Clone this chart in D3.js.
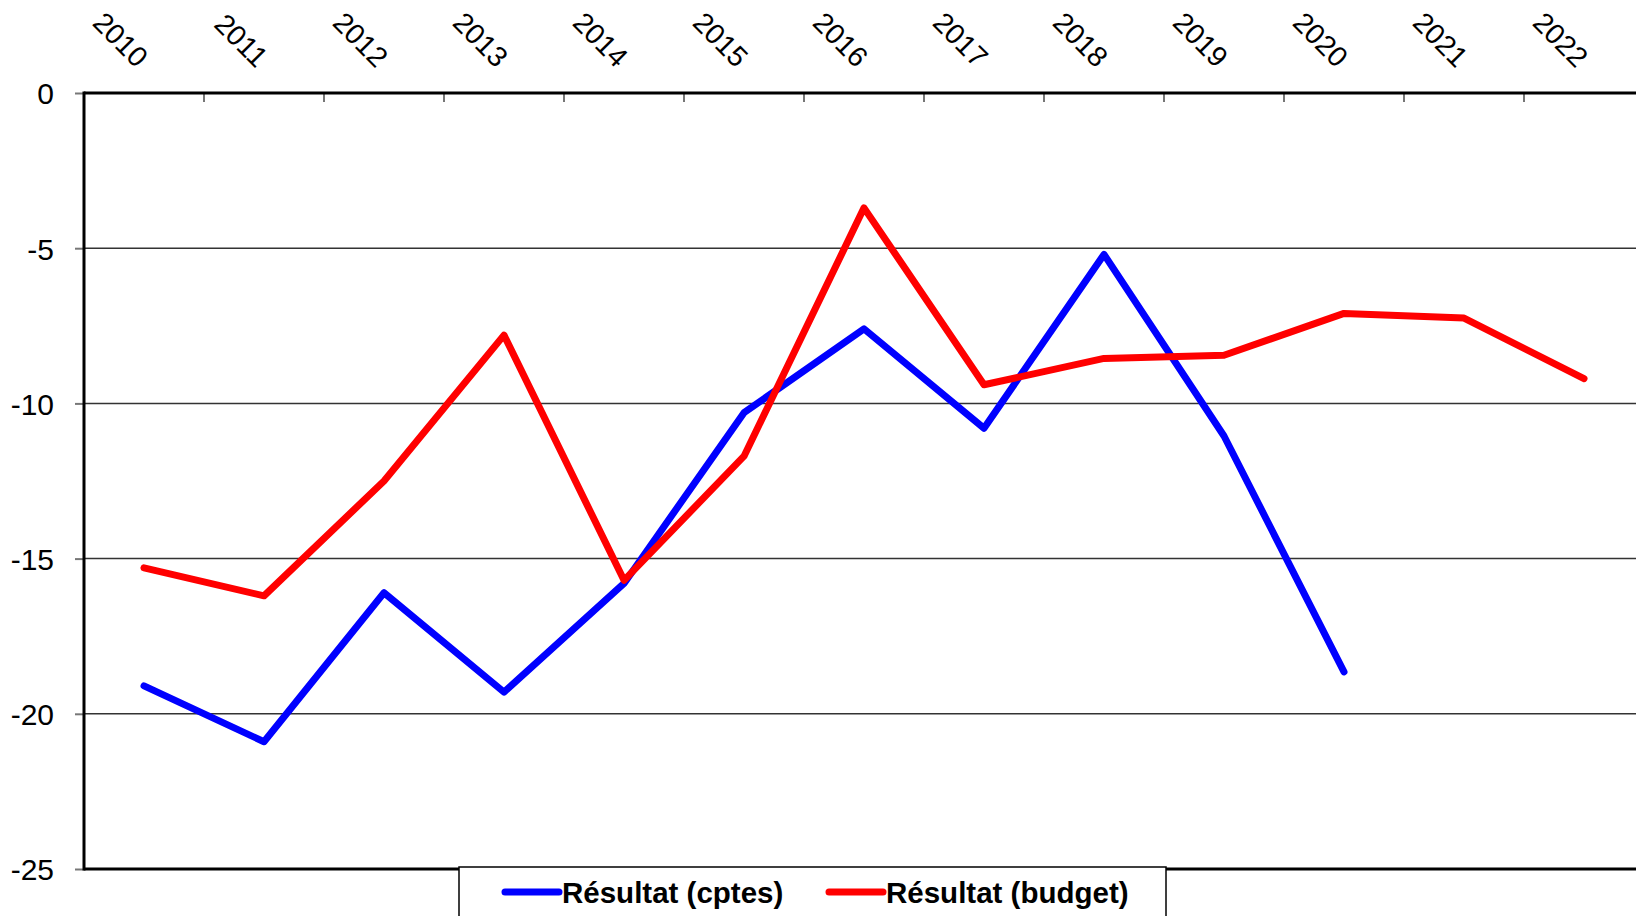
<!DOCTYPE html>
<html>
<head>
<meta charset="utf-8">
<script src="https://cdn.jsdelivr.net/npm/d3@7"></script>
<style>
  body { margin: 0; background: #fff; }
  text { font-family: Arial, "Liberation Sans", sans-serif; }
</style>
</head>
<body>
<div class="chart"></div>
<script>
var years = ["2010","2011","2012","2013","2014","2015","2016","2017","2018","2019","2020","2021","2022"];
var cptes = [-19.1, -20.9, -16.1, -19.3, -15.8, -10.3, -7.6, -10.8, -5.2, -11.05, -18.65];
var budget = [-15.3, -16.2, -12.5, -7.8, -15.7, -11.7, -3.7, -9.4, -8.55, -8.45, -7.1, -7.25, -9.2];
var yTicks = [0, -5, -10, -15, -20, -25];
var seriesNames = ["Résultat (cptes)", "Résultat (budget)"];
var seriesColors = ["#0000ff", "#ff0000"];

var svg = d3.select(".chart")
	.append("svg")
	.attr("width", 1636)
	.attr("height", 916);

var plotLeft = 84, plotTop = 93, plotBottom = 869;

var x = d3.scaleBand()
	.domain(years)
	.range([plotLeft, plotLeft + 120 * years.length])
	.padding(0);

var y = d3.scaleLinear()
	.domain([0, -25])
	.range([plotTop, plotBottom]);

// grid lines
svg.append("g")
	.selectAll("line")
	.data([-5, -10, -15, -20])
	.enter()
	.append("line")
	.attr("x1", plotLeft)
	.attr("x2", 1636)
	.attr("y1", d => y(d))
	.attr("y2", d => y(d))
	.style("stroke", "#333")
	.style("stroke-width", 1.5);

// y axis
var yAxis = svg.append("g")
	.attr("transform", "translate(" + plotLeft + ",0)")
	.call(d3.axisLeft(y).tickValues(yTicks).tickSize(9).tickPadding(21).tickFormat(d => String(d)));
yAxis.select(".domain").remove();
yAxis.selectAll("line").style("stroke", "#777").style("stroke-width", 2);
yAxis.selectAll("text")
	.style("font-size", "30px")
	.style("fill", "#000")
	.attr("dy", "0.36em");

// x axis ticks (band boundaries, pointing down)
svg.append("g")
	.selectAll("line")
	.data(years.slice(1))
	.enter()
	.append("line")
	.attr("x1", d => x(d))
	.attr("x2", d => x(d))
	.attr("y1", plotTop)
	.attr("y2", plotTop + 9)
	.style("stroke", "#777")
	.style("stroke-width", 2);

// x labels, rotated
svg.append("g")
	.selectAll("text")
	.data(years)
	.enter()
	.append("text")
	.attr("transform", d => "translate(" + (x(d) + x.bandwidth() / 2 - 8) + "," + (plotTop - 24) + ") rotate(45)")
	.attr("text-anchor", "end")
	.style("font-size", "28.5px")
	.text(d => d);

// frame lines
svg.append("line")
	.attr("x1", plotLeft).attr("x2", 1636)
	.attr("y1", plotTop).attr("y2", plotTop)
	.style("stroke", "#000").style("stroke-width", 3);
svg.append("line")
	.attr("x1", plotLeft).attr("x2", 1636)
	.attr("y1", plotBottom).attr("y2", plotBottom)
	.style("stroke", "#000").style("stroke-width", 3);
svg.append("line")
	.attr("x1", plotLeft).attr("x2", plotLeft)
	.attr("y1", plotTop - 1.5).attr("y2", plotBottom + 1.5)
	.style("stroke", "#000").style("stroke-width", 3);

// lines
var line = d3.line()
	.x((d, i) => x(years[i]) + x.bandwidth() / 2)
	.y(d => y(d));

[cptes, budget].forEach(function(s, k) {
	svg.append("path")
		.datum(s)
		.attr("d", line)
		.style("fill", "none")
		.style("stroke", seriesColors[k])
		.style("stroke-width", 7)
		.style("stroke-linejoin", "round")
		.style("stroke-linecap", "round");
});

// legend
var legend = svg.append("g")
	.attr("class", "legend");

legend.append("rect")
	.attr("x", 459)
	.attr("y", 867)
	.attr("width", 707)
	.attr("height", 60)
	.style("fill", "#fff")
	.style("stroke", "#000")
	.style("stroke-width", 1.5);

var legX = [505, 829];
seriesNames.forEach(function(name, i) {
	legend.append("line")
		.attr("x1", legX[i])
		.attr("x2", legX[i] + 54)
		.attr("y1", 892)
		.attr("y2", 892)
		.style("stroke", seriesColors[i])
		.style("stroke-width", 7)
		.style("stroke-linecap", "round");
	legend.append("text")
		.attr("x", legX[i] + 57)
		.attr("y", 892)
		.attr("dy", "0.36em")
		.style("font-size", "29.5px")
		.style("font-weight", "bold")
		.text(name);
});
</script>
</body>
</html>
